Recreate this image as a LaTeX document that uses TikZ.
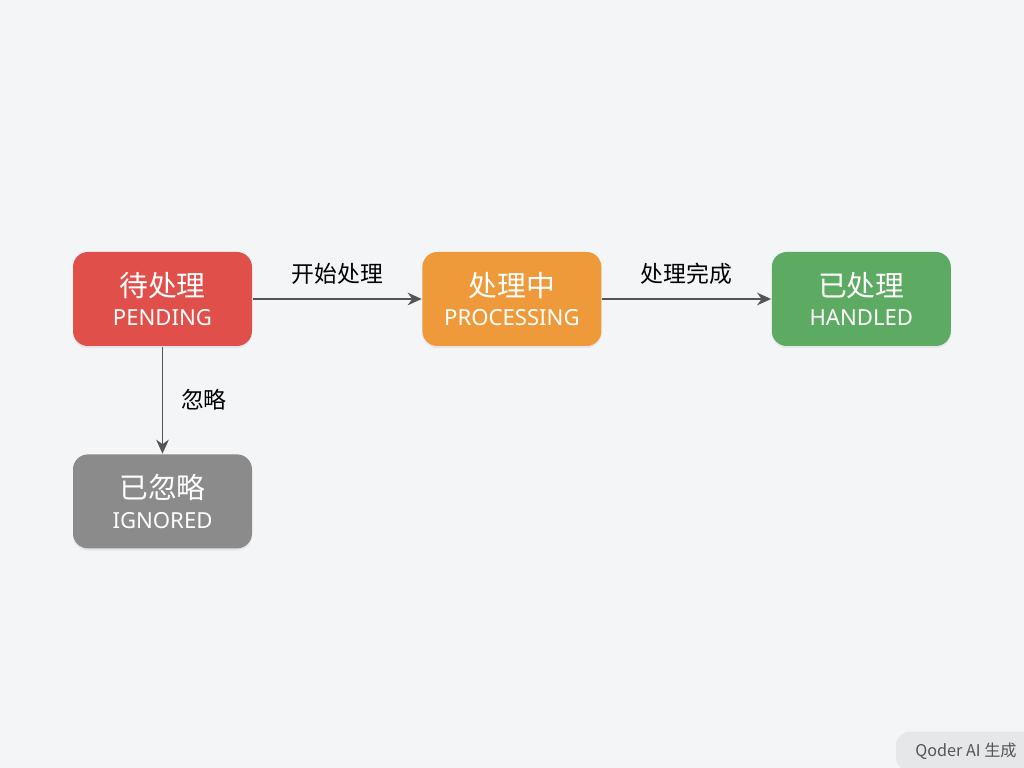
\documentclass[tikz,border=0pt]{standalone}
\usepackage{fontspec}
\setmainfont{Noto Sans}
\newfontfamily\cjk{Noto Sans CJK SC}
\usetikzlibrary{positioning, arrows.meta, shadows}

\definecolor{bgcol}{HTML}{F4F5F7}
\definecolor{pendcol}{HTML}{E04F49}
\definecolor{proccol}{HTML}{EF9A3A}
\definecolor{handcol}{HTML}{5DAA62}
\definecolor{igncol}{HTML}{8B8B8B}
\definecolor{linecol}{HTML}{555555}
\definecolor{markcol}{HTML}{E6E7E9}

\tikzset{
	state/.style = {draw = none, rounded corners = 0.15cm, minimum width = 1.79cm,
		minimum height = 0.94cm, align = center, text = white, inner sep = 0pt,
		drop shadow = {opacity = 0.12, shadow xshift = 0pt, shadow yshift = -0.6pt}},
	trans/.style = {-{Stealth[length = 4pt, width = 3.6pt]}, line width = 0.45pt, linecol},
	translabel/.style = {font = \cjk\fontsize{6.5}{7}\selectfont, text = black}
}

\newcommand{\statetext}[2]{{\cjk\fontsize{8.2}{9}\selectfont #1}\\[-3.6pt]{\fontsize{6.3}{8}\selectfont #2}}

\begin{document}
\begin{tikzpicture}

	% Canvas
	
	\fill [bgcol] (0, 0) rectangle (10.24, 7.68);
	\useasboundingbox (0, 0) rectangle (10.24, 7.68);
	
	% States
	
	\node [state, fill = pendcol] (pending) at (1.625, 4.69) {\statetext{待处理}{PENDING}};
	\node [state, fill = proccol, right = 1.69cm of pending] (processing) {\statetext{处理中}{PROCESSING}};
	\node [state, fill = handcol, right = 1.69cm of processing] (handled) {\statetext{已处理}{HANDLED}};
	\node [state, fill = igncol, below = 1.07cm of pending] (ignored) {\statetext{已忽略}{IGNORED}};
	
	% Transitions with label nodes
	
	\draw [trans] (pending) -- (processing) node [midway, above = 0.02cm, translabel] {开始处理};
	\draw [trans] (processing) -- (handled) node [midway, above = 0.02cm, translabel] {处理完成};
	\draw [trans] (pending) -- (ignored) node [midway, right = 0.06cm, translabel] {忽略};
	
	% Watermark
	
	\node [fill = markcol, rounded corners = 0.14cm, minimum width = 1.4cm, minimum height = 0.36cm,
		font = \cjk\fontsize{4.6}{6}\selectfont, text = linecol] (mark) at (9.66, 0.165) {Qoder AI 生成};
	
\end{tikzpicture}
\end{document}
